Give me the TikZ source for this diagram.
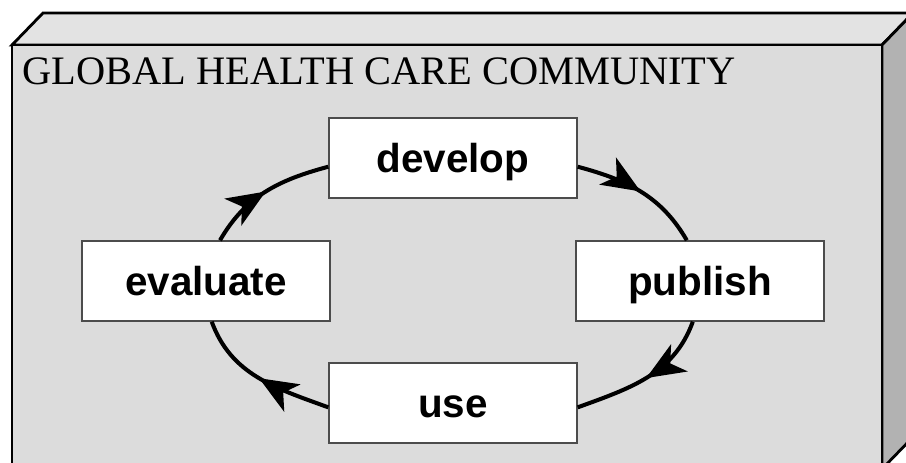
\documentclass[tikz,border=0pt]{standalone}
\usepackage{fontspec}
\setmainfont{Liberation Serif}
\newfontfamily\boxfont{Liberation Sans}
\usetikzlibrary{arrows.meta,decorations.markings}

\definecolor{frontgray}{HTML}{DCDCDC}
\definecolor{topgray}{HTML}{E3E3E3}
\definecolor{sidegray}{HTML}{B2B2B2}

\begin{document}
\begin{tikzpicture}[x=0.02cm, y=0.02cm]
\tikzset{box style/.style={shape=rectangle, draw=black!70, fill=white, line width=0.8pt,
            minimum width=4.96cm, minimum height=1.6cm, text height=20pt, text depth=4pt,
            font=\boxfont\bfseries\fontsize{23}{27}\selectfont},
         cycle arrow/.style={line width=2.3pt, postaction={decorate},
            decoration={markings, mark=at position 0.5 with {\arrow{Stealth[length=22pt, width=18pt, inset=6pt]}}}},
         face line/.style={draw=black, line width=1.6pt, line join=miter}}

\useasboundingbox (0, 0) rectangle (906, 463);
\clip (0, 0) rectangle (906, 463);

% the community block
\path[face line, fill=topgray]   (12, 418) -- (43, 450) -- (913, 450) -- (882, 418) -- cycle;
\path[face line, fill=sidegray]  (882, 418) -- (913, 450) -- (913, 26) -- (882, -6) -- cycle;
\path[face line, fill=frontgray] (12, -6) rectangle (882, 418);

\node[anchor=base west, inner sep=0pt, font=\fontsize{23}{27}\selectfont] at (22, 378) (title) {GLOBAL HEALTH CARE COMMUNITY};

\node[box style] at (453, 305)   (develop)   {develop};
\node[box style] at (700, 182)   (publish)   {publish};
\node[box style] at (453, 60)    (use)       {use};
\node[box style] at (206, 182)   (evaluate)  {evaluate};

\draw
            (evaluate.71)   edge[cycle arrow, out=60, in=195]    (develop.184)
            (develop.356)   edge[cycle arrow, out=-15, in=120]   (publish.108)
            (publish.260)   edge[cycle arrow, out=-110, in=20]   (use.358)
            (use.182)       edge[cycle arrow, out=160, in=-70]   (evaluate.278)
;
\end{tikzpicture}
\end{document}
